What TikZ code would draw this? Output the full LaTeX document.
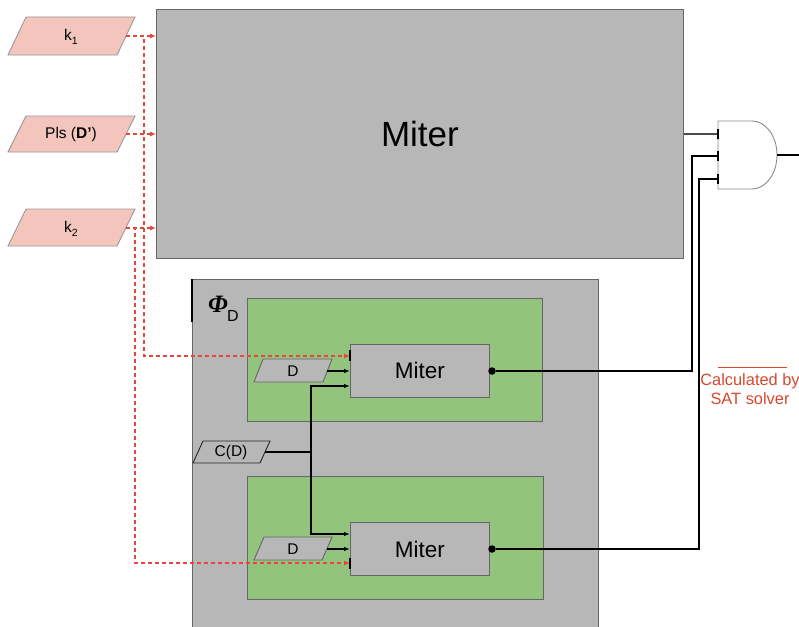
\documentclass[tikz,border=0pt]{standalone}
\usepackage{fontspec}
\setmainfont{Liberation Sans}
\newfontfamily\phifont{Liberation Serif}
\usetikzlibrary{arrows.meta,calc}
\definecolor{boxgrey}{HTML}{B7B7B7}
\definecolor{edgegrey}{HTML}{666666}
\definecolor{pinkin}{HTML}{F4C5BD}
\definecolor{pinkedge}{HTML}{999999}
\definecolor{greenbox}{HTML}{93C47D}
\definecolor{dashred}{HTML}{E8453C}
\definecolor{notered}{HTML}{D9482B}
\newcommand{\lowsub}[1]{\raisebox{-3.5pt}{\fontsize{10.5}{11}\selectfont #1}}
\begin{document}
\begin{tikzpicture}[x=1pt,y=-1pt,
  box/.style={draw=edgegrey, fill=boxgrey, line width=0.9pt, inner sep=0pt, anchor=north west},
  greenrect/.style={draw=edgegrey, fill=greenbox, line width=0.9pt, inner sep=0pt, anchor=north west},
  pinpara/.style={draw=pinkedge, fill=pinkin, line width=0.9pt},
  greypara/.style={draw=edgegrey, fill=boxgrey, line width=0.9pt},
  darkpara/.style={draw=black!85, fill=boxgrey, line width=0.9pt},
  lbl/.style={inner sep=0pt, font=\fontsize{15.5}{18}\selectfont},
  sig/.style={draw=black, line width=1.2pt},
  thicksig/.style={draw=black, line width=1.8pt},
  dsig/.style={draw=dashred, line width=1.1pt, dash pattern=on 4pt off 3pt},
  redtip/.style={-{Latex[length=6pt,width=5pt]}},
  blacktip/.style={-{Latex[length=6pt,width=4.5pt]}},
  porttick/.style={draw=black, line width=1.5pt}
]
\fill[white] (0,0) rectangle (799,626);
\clip (0,0) rectangle (799,626);

% big miter
\node[box, minimum width=527pt, minimum height=249pt] (BM) at (156,9) {};
\node[inner sep=0pt, font=\fontsize{35}{40}\selectfont] (BMt) at (BM.center) {Miter};

% Phi_D box
\node[box, minimum width=406pt, minimum height=360pt] (PHI) at (192,279) {};
\draw[line width=1.6pt] (PHI.north west) -- ++(0,43);
\node[anchor=base west, inner sep=0pt] (phi) at (208,312)
  {\phifont\bfseries\itshape\fontsize{25}{25}\selectfont Φ};
\node[anchor=base west, inner sep=0pt, font=\fontsize{16}{16}\selectfont] (phiD) at (227,321) {D};

% green boxes
\node[greenrect, minimum width=295pt, minimum height=123pt] (G1) at (247,298) {};
\node[greenrect, minimum width=296pt, minimum height=123pt] (G2) at (247,476) {};

% inner miters
\node[box, minimum width=139pt, minimum height=53pt] (M1) at (350,344) {};
\node[inner sep=0pt, font=\fontsize{22.5}{26}\selectfont] (M1t) at (M1.center) {Miter};
\node[box, minimum width=139pt, minimum height=53pt] (M2) at (350,522) {};
\node[inner sep=0pt, font=\fontsize{22.5}{26}\selectfont] (M2t) at (M2.center) {Miter};

% input parallelograms
\draw[pinpara] (8,55) -- (26,17) -- (135,17) -- (117,55) -- cycle;
\node[lbl] (k1) at (71,37) {k\lowsub{1}};
\coordinate (k1e) at (126,36);
\draw[pinpara] (8,152) -- (26,116) -- (135,116) -- (117,152) -- cycle;
\node[lbl] (pls) at (71,134) {Pls (\textbf{D’})};
\coordinate (plse) at (126,134);
\draw[pinpara] (8,246) -- (26,209) -- (135,209) -- (117,246) -- cycle;
\node[lbl] (k2) at (71,229) {k\lowsub{2}};
\coordinate (k2e) at (126,228);

% D parallelograms
\draw[greypara] (254,382) -- (263,359) -- (332,359) -- (323,382) -- cycle;
\node[lbl] (d1) at (293,371) {D};
\coordinate (d1e) at (327,371);
\draw[greypara] (254,560) -- (264,537) -- (332,537) -- (322,560) -- cycle;
\node[lbl] (d2) at (293,549) {D};
\coordinate (d2e) at (327,549);

% C(D)
\draw[darkpara] (193,463) -- (203,441) -- (270,441) -- (260,463) -- cycle;
\node[lbl] (cd) at (231,452) {C(D)};
\coordinate (cde) at (265,452);
\coordinate (cdj) at (311,452);

% port coordinates
\coordinate (m1a) at (350,356);
\coordinate (m1b) at (350,386);
\coordinate (m2a) at (350,534);
\coordinate (m2c) at (350,563);

% red dashed connections
\draw[dsig, redtip] (k1e) -- (BM.west |- k1e);
\draw[dsig, redtip] (plse) -- (BM.west |- plse);
\draw[dsig, redtip] (k2e) -- (BM.west |- k2e);
\draw[dsig, redtip] (k1e) -- ++(18,0) |- (m1a);
\draw[dsig, redtip] (k2e) -- ++(9,0) |- (m2c);
\draw[porttick] (350,350) -- (350,361);
\draw[porttick] (350,558) -- (350,569);

% D arrows
\draw[thicksig, blacktip] (d1e) -- (M1.west |- d1e);
\draw[thicksig, blacktip] (d2e) -- (M2.west |- d2e);

% C(D) connections
\draw[sig] (cde) -- (cdj);
\draw[sig, blacktip] (cdj) |- (m1b);
\draw[sig, blacktip] (cdj) |- (m2a);

% AND gate
\coordinate (a1) at (718,134);
\coordinate (a2) at (718,156);
\coordinate (a3) at (718,179);
\draw[draw=black!45, fill=white, line width=0.9pt]
  (718,121) -- (752,121) arc (-90:90:25 and 34) -- (718,189) -- cycle;
\coordinate (aout) at (777,155);
\draw[sig] (aout) -- (799,155);
\draw[draw=black!70, line width=1.2pt] (BM.east |- a1) -- (a1);
\foreach \p in {a1,a2,a3} {\draw[porttick] ($(\p)+(0,-5)$) -- ($(\p)+(0,5)$);}

% outputs of inner miters
\node[circle, fill=black, inner sep=0pt, minimum size=7.5pt] (o1) at (492,371) {};
\node[circle, fill=black, inner sep=0pt, minimum size=7.5pt] (o2) at (492,549) {};
\draw[sig] (o1) -- ++(200,0) |- (a2);
\draw[sig] (o2) -- ++(207,0) |- (a3);

% note
\draw[notered, line width=1pt] (718,367) -- (787,367);
\node[text=notered, align=center, inner sep=0pt,
      font=\fontsize{16.4}{19}\selectfont] (calc) at (750,389) {Calculated by\\SAT solver};
\end{tikzpicture}
\end{document}
